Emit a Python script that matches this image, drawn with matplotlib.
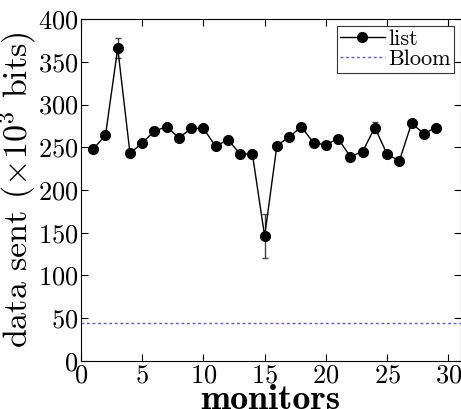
import matplotlib
matplotlib.use('Agg')
import matplotlib.pyplot as plt
import numpy as np

plt.rcParams['font.family'] = 'serif'
plt.rcParams['font.serif'] = ['cmr10']
plt.rcParams['mathtext.fontset'] = 'cm'
plt.rcParams['axes.formatter.use_mathtext'] = True

# data
monitors = list(range(1, 30))
list_sent = [248, 264, 366, 243, 255, 269, 274, 261, 272, 272,
             251, 259, 242, 242, 146, 252, 262, 274, 255, 253,
             260, 239, 245, 273, 242, 234, 278, 266, 273]
list_err = [3, 3, 12, 3, 3, 5, 3, 3, 4, 3,
            3, 3, 3, 3, 26, 3, 3, 3, 3, 3,
            3, 3, 3, 6, 3, 3, 3, 3, 3]
bloom_sent = 45

fig = plt.figure(figsize=(4.61, 4.09), dpi=100)
ax = fig.add_axes([0.1757, 0.1174, 0.8233, 0.8361])

ax.errorbar(monitors, list_sent, yerr=list_err, fmt='none',
            ecolor='#444444', elinewidth=1, capsize=2)
ax.plot(monitors, list_sent, color='black', marker='o', markersize=7,
        linewidth=1, label='list')
ax.axhline(bloom_sent, color='#5555ff', linestyle=(0, (2, 2)), linewidth=1,
           label='Bloom')

ax.set_xlim(0, 31)
ax.set_ylim(0, 400)
ax.set_xticks([0, 5, 10, 15, 20, 25, 30])
ax.set_yticks(range(0, 401, 50))
ax.tick_params(direction='in', top=True, right=True, labelsize=19, length=5, pad=2)

ax.set_xlabel('monitors', fontsize=26, fontfamily='cmb10', labelpad=-2)
ax.set_ylabel(r'data sent ($\times 10^3$ bits)', fontsize=24.5, labelpad=0)

leg = ax.legend(loc='upper right', fontsize=16, fancybox=False, edgecolor='black',
                borderpad=0.15, handlelength=2.0, handletextpad=0.15,
                labelspacing=0.05, borderaxespad=0.3)
leg.get_frame().set_linewidth(0.8)

fig.savefig('out.png', dpi=100)
